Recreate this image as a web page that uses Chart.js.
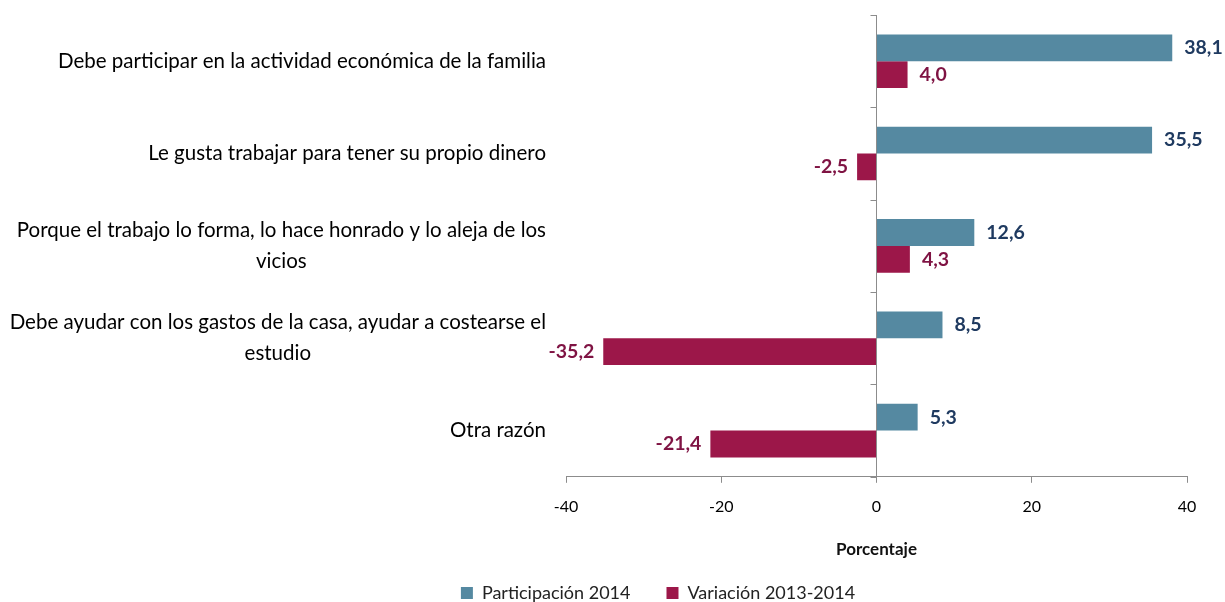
<!DOCTYPE html>
<html>
<head>
<meta charset="utf-8">
<script src="https://cdn.jsdelivr.net/npm/chart.js@4.4.0/dist/chart.umd.min.js"></script>
<style>
  body { margin: 0; background: #fff; }
  #wrap { width: 1225px; height: 602px; }
</style>
</head>
<body>
<div id="wrap"><canvas id="chart" width="1225" height="602"></canvas></div>
<script>
var categories = [
    ['Debe participar en la actividad económica de la familia'],
    ['Le gusta trabajar para tener su propio dinero'],
    ['Porque el trabajo lo forma, lo hace honrado y lo aleja de los', 'vicios'],
    ['Debe ayudar con los gastos de la casa, ayudar a costearse el', 'estudio'],
    ['Otra razón']
];
var participacion = [38.1, 35.5, 12.6, 8.5, 5.3];
var variacion = [4.0, -2.5, 4.3, -35.2, -21.4];
var xTicks = [-40, -20, 0, 20, 40];
var seriesNames = ['Participación 2014', 'Variación 2013-2014'];

var font = 'Lato, "Liberation Sans", sans-serif';
var axisGray = '#8c8c8c';
var barColors = ['#5589a1', '#9c1749'];
var valueColors = ['#1f3a60', '#7f1343'];

// category labels, zero-line ticks and value labels
var labelPlugin = {
    id: 'labels',
    afterLayout: function(chart) {
        // legend sits a bit lower in the original, half cut by the edge
        chart.legend.top -= 12;
        chart.legend.bottom -= 12;
    },
    afterDatasetsDraw: function(chart) {
        var ctx = chart.ctx;
        var area = chart.chartArea;
        var x = chart.scales.x;
        var y = chart.scales.y;
        ctx.save();

        ctx.font = '20.5px ' + font;
        ctx.fillStyle = '#000';
        ctx.textAlign = 'center';
        ctx.textBaseline = 'middle';
        categories.forEach(function(lines, i) {
            var w = Math.max.apply(null, lines.map(function(l) { return ctx.measureText(l).width; }));
            var cx = area.left - 20 - w / 2;
            var cy = y.getPixelForValue(i);
            lines.forEach(function(l, j) {
                ctx.fillText(l, cx, cy + (j - (lines.length - 1) / 2) * 31);
            });
        });

        var x0 = x.getPixelForValue(0);
        ctx.strokeStyle = axisGray;
        ctx.lineWidth = 1;
        for (var i = 0; i <= categories.length; i++) {
            var ty = Math.round(y.getPixelForValue(i - 0.5)) + 0.5;
            ctx.beginPath();
            ctx.moveTo(x0 - 6, ty);
            ctx.lineTo(x0, ty);
            ctx.stroke();
        }

        ctx.font = 'bold 19.5px ' + font;
        chart.data.datasets.forEach(function(ds, di) {
            var meta = chart.getDatasetMeta(di);
            ctx.fillStyle = valueColors[di];
            meta.data.forEach(function(bar, i) {
                var v = ds.data[i];
                ctx.textAlign = v < 0 ? 'right' : 'left';
                ctx.fillText(v.toFixed(1).replace('.', ','), bar.x + (v < 0 ? -9 : 12), bar.y);
            });
        });
        ctx.restore();
    }
};

var ctx = document.getElementById('chart').getContext('2d');
var chart = new Chart(ctx, {
    type: 'bar',
    data: {
        labels: categories.map(function(l) { return l.join(' '); }),
        datasets: [{
            label: seriesNames[0],
            data: participacion,
            backgroundColor: barColors[0]
        }, {
            label: seriesNames[1],
            data: variacion,
            backgroundColor: barColors[1]
        }]
    },
    options: {
        indexAxis: 'y',
        responsive: false,
        animation: false,
        categoryPercentage: 0.58,
        barPercentage: 1,
        layout: { padding: { left: 129, right: 38, top: 15, bottom: -22 } },
        scales: {
            x: {
                min: -40,
                max: 40,
                afterBuildTicks: function(s) {
                    s.ticks = xTicks.map(function(v) { return { value: v }; });
                },
                grid: {
                    color: function(c) {
                        return c.tick && c.tick.value === 0 ? axisGray : 'rgba(0,0,0,0)';
                    },
                    tickColor: axisGray,
                    tickLength: 6
                },
                border: { color: axisGray },
                ticks: {
                    color: '#000',
                    padding: 14,
                    font: { family: font, size: 16 }
                },
                title: {
                    display: true,
                    text: 'Porcentaje',
                    color: '#111',
                    font: { family: font, size: 17, weight: 'bold' },
                    padding: { top: 9.6, bottom: 0 }
                }
            },
            y: {
                grid: { display: false },
                border: { display: false },
                ticks: { display: false },
                afterFit: function(s) { s.width = 437; }
            }
        },
        plugins: {
            legend: {
                position: 'bottom',
                labels: {
                    boxWidth: 12,
                    boxHeight: 12,
                    padding: 36,
                    color: '#222',
                    font: { family: font, size: 18 }
                }
            },
            tooltip: { enabled: false }
        }
    },
    plugins: [labelPlugin]
});
</script>
</body>
</html>
